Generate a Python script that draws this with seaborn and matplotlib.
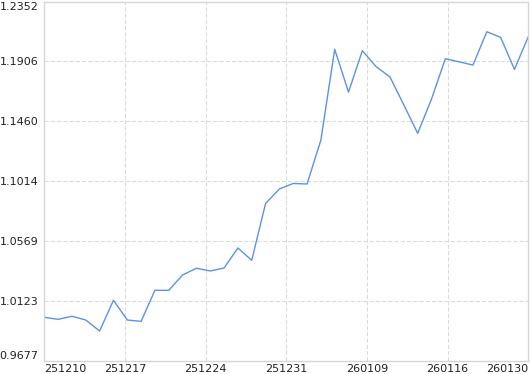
import matplotlib
matplotlib.use("Agg")
import matplotlib.pyplot as plt
import seaborn as sns
import pandas as pd
import numpy as np

values = [1.0002, 0.9987, 1.0010, 0.9982, 0.9900, 1.0129, 0.9982, 0.9972,
          1.0203, 1.0203, 1.0317, 1.0367, 1.0347, 1.0369, 1.0518, 1.0426,
          1.0849, 1.0957, 1.0998, 1.0994, 1.1321, 1.1996, 1.1678, 1.1986,
          1.1867, 1.1790, 1.1582, 1.1371, 1.1626, 1.1926, 1.1903, 1.1879,
          1.2127, 1.2085, 1.1847, 1.2090]
x_labels = ["251210", "251217", "251224", "251231", "260109", "260116", "260130"]
y_ticks = [0.9677, 1.0123, 1.0569, 1.1014, 1.1460, 1.1906, 1.2352]

df = pd.DataFrame({"idx": np.arange(len(values)), "value": values})

sns.set_style("white")
plt.rcParams['font.family'] = ['DejaVu Sans']

fig = plt.figure(figsize=(5.3, 3.74), dpi=100)
ax = fig.add_axes([44.3 / 530, 1 - 361 / 374, (528.3 - 44.3) / 530, (361 - 1.5) / 374])

sns.lineplot(data=df, x="idx", y="value", ax=ax, color="#5a93e6", linewidth=1.0)

n = len(values) - 1
ax.set_xlim(0, n)
ax.set_ylim(y_ticks[0], y_ticks[-1])
ax.set_xticks(np.linspace(0, n, len(x_labels)))
ax.set_xticklabels(x_labels)
ax.set_yticks(y_ticks)
ax.set_yticklabels([f"{v:.4f}" for v in y_ticks])
ax.set_xlabel("")
ax.set_ylabel("")

ax.grid(True, color="#dadada", linestyle=(0, (4, 2)), linewidth=0.75)
for s in ax.spines.values():
    s.set_color("#d6d6d6")
    s.set_linewidth(1.0)

ax.tick_params(axis="both", length=0, labelsize=8, colors="#222222")
ax.tick_params(axis="y", pad=4)
ax.tick_params(axis="x", pad=2)

xl = ax.get_xticklabels()
xl[0].set_ha("left")
xl[-1].set_ha("right")
yl = ax.get_yticklabels()
yl[0].set_va("bottom")
yl[-1].set_va("top")

fig.savefig("out.png", dpi=100)
